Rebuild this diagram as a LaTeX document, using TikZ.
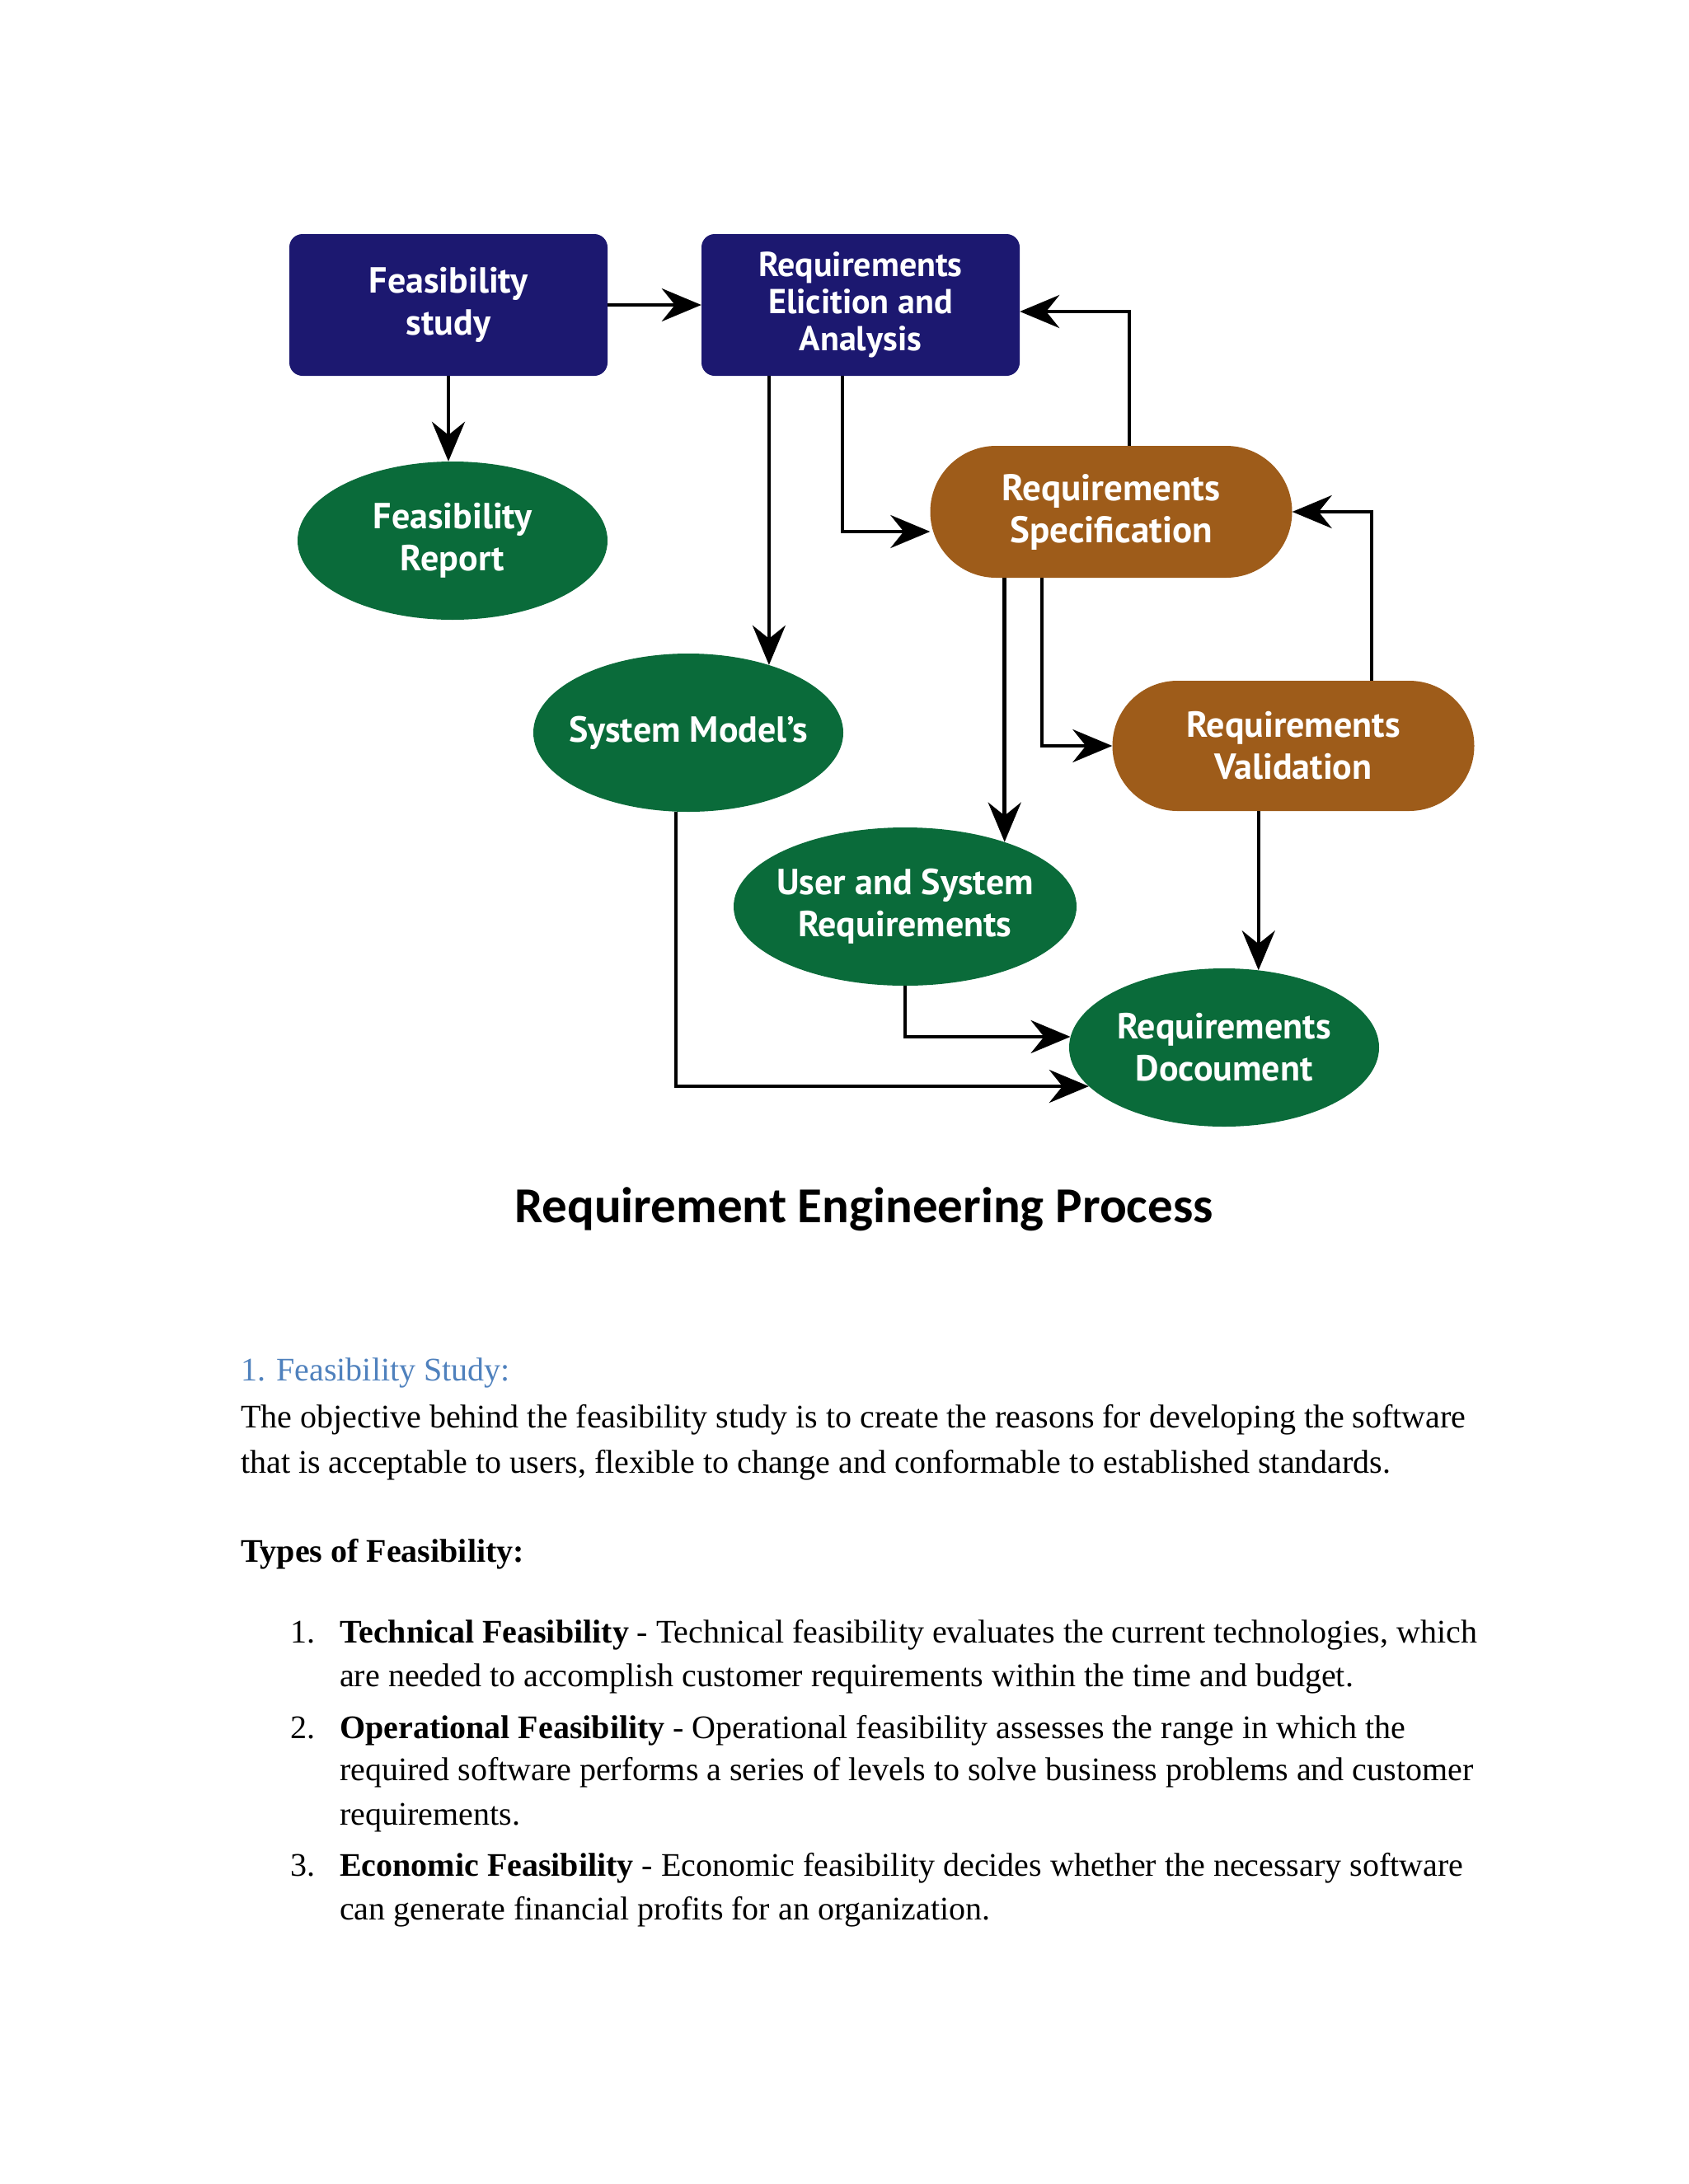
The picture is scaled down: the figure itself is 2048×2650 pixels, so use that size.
\documentclass[tikz,border=0pt]{standalone}
\usepackage{fontspec}
\setmainfont{Liberation Serif}
\newfontfamily\nodefont{PT Sans}
\newfontfamily\titlefont{Carlito}
\usetikzlibrary{shapes.geometric,shapes.misc,arrows.meta}
\definecolor{navyc}{RGB}{28,24,112}
\definecolor{greenc}{RGB}{10,107,58}
\definecolor{brownc}{RGB}{158,92,26}
\definecolor{headblue}{RGB}{79,129,189}
\tikzset{
  boxtext/.style={text=white, align=center, font=\nodefont\bfseries\fontsize{44}{51}\selectfont},
  navybox/.style={boxtext, rectangle, rounded corners=16pt, fill=navyc, minimum width=386pt, minimum height=172pt},
  greenell/.style={boxtext, ellipse, fill=greenc, minimum width=376pt, minimum height=192pt, inner sep=-40pt},
  brownst/.style={boxtext, rounded rectangle, fill=brownc, minimum width=439pt, minimum height=160pt, inner sep=0pt},
  arr/.style={line width=4.5pt, -{Stealth[length=48pt, width=40pt, inset=16pt]}},
  bodytext/.style={anchor=base west, inner sep=0pt, font=\fontsize{40}{48}\selectfont}
}
\begin{document}
\begin{tikzpicture}[x=1pt,y=-1pt]
\useasboundingbox (0,0) rectangle (2048,2650);
\fill[white] (0,0) rectangle (2048,2650);

% nodes
\node[navybox] (FS) at (544,370) {Feasibility\\study};
\node[navybox, font=\nodefont\bfseries\fontsize{42}{45}\selectfont] (REA) at (1044,370) {Requirements\\Elicition and\\Analysis};
\node[greenell] (FR) at (549,656) {Feasibility\\Report};
\node[brownst, font=\nodefont\bfseries\fontsize{45}{51}\selectfont] (RS) at (1348,621) {Requirements\\Specification};
\node[greenell] (SM) at (835,889) {System Model’s};
\node[brownst, minimum height=158pt] (RV) at (1569,905) {Requirements\\Validation};
\node[greenell, minimum width=416pt] (USR) at (1098,1100) {User and System\\Requirements};
\node[greenell] (RD) at (1485,1271) {Requirements\\Docoument};

% connectors
\draw[arr] (FS.east) -- (REA.west);
\draw[arr] (FS.south) -- (FS.south |- FR.north);
\draw[arr] (REA.south -| SM.40) -- (SM.40);
\draw[arr] ([xshift=-22pt]REA.south) |- ([yshift=-24pt]RS.west);
\draw[arr] ([xshift=22pt]RS.north) |- ([yshift=-8pt]REA.east);
\draw[arr] (RS.south -| USR.33.5) -- (USR.33.5);
\draw[arr] ([xshift=-84pt]RS.south) |- (RV.west);
\draw[arr] ([xshift=95pt]RV.north) |- (RS.east);
\draw[arr] (RV.south -| RD.66) -- (RD.66);
\draw[arr] (USR.south) |- (RD.176);
\draw[arr] ([xshift=-15pt]SM.south) |- (RD.196);

% title
\node[font=\titlefont\bfseries\fontsize{61}{70}\selectfont] (title) at (1048,1467) {Requirement Engineering Process};

% text
\node[bodytext, text=headblue, font=\fontsize{40}{48}\selectfont] (h1) at (292,1675) {1. Feasibility Study:};
\node[bodytext] (p1) at (292,1732) {The objective behind the feasibility study is to create the reasons for developing the software};
\node[bodytext] (p2) at (292,1787) {that is acceptable to users, flexible to change and conformable to established standards.};
\node[bodytext] (types) at (292,1895) {\bfseries Types of Feasibility:};
\node[bodytext] (n1) at (352,1993) {1.};
\node[bodytext] (t1a) at (412,1993) {\textbf{Technical Feasibility} - Technical feasibility evaluates the current technologies, which};
\node[bodytext] (t1b) at (412,2046) {are needed to accomplish customer requirements within the time and budget.};
\node[bodytext] (n2) at (352,2109) {2.};
\node[bodytext] (t2a) at (412,2109) {\textbf{Operational Feasibility} - Operational feasibility assesses the range in which the};
\node[bodytext] (t2b) at (412,2160) {required software performs a series of levels to solve business problems and customer};
\node[bodytext] (t2c) at (412,2214) {requirements.};
\node[bodytext] (n3) at (352,2276) {3.};
\node[bodytext] (t3a) at (412,2276) {\textbf{Economic Feasibility} - Economic feasibility decides whether the necessary software};
\node[bodytext] (t3b) at (412,2329) {can generate financial profits for an organization.};
\end{tikzpicture}
\end{document}
